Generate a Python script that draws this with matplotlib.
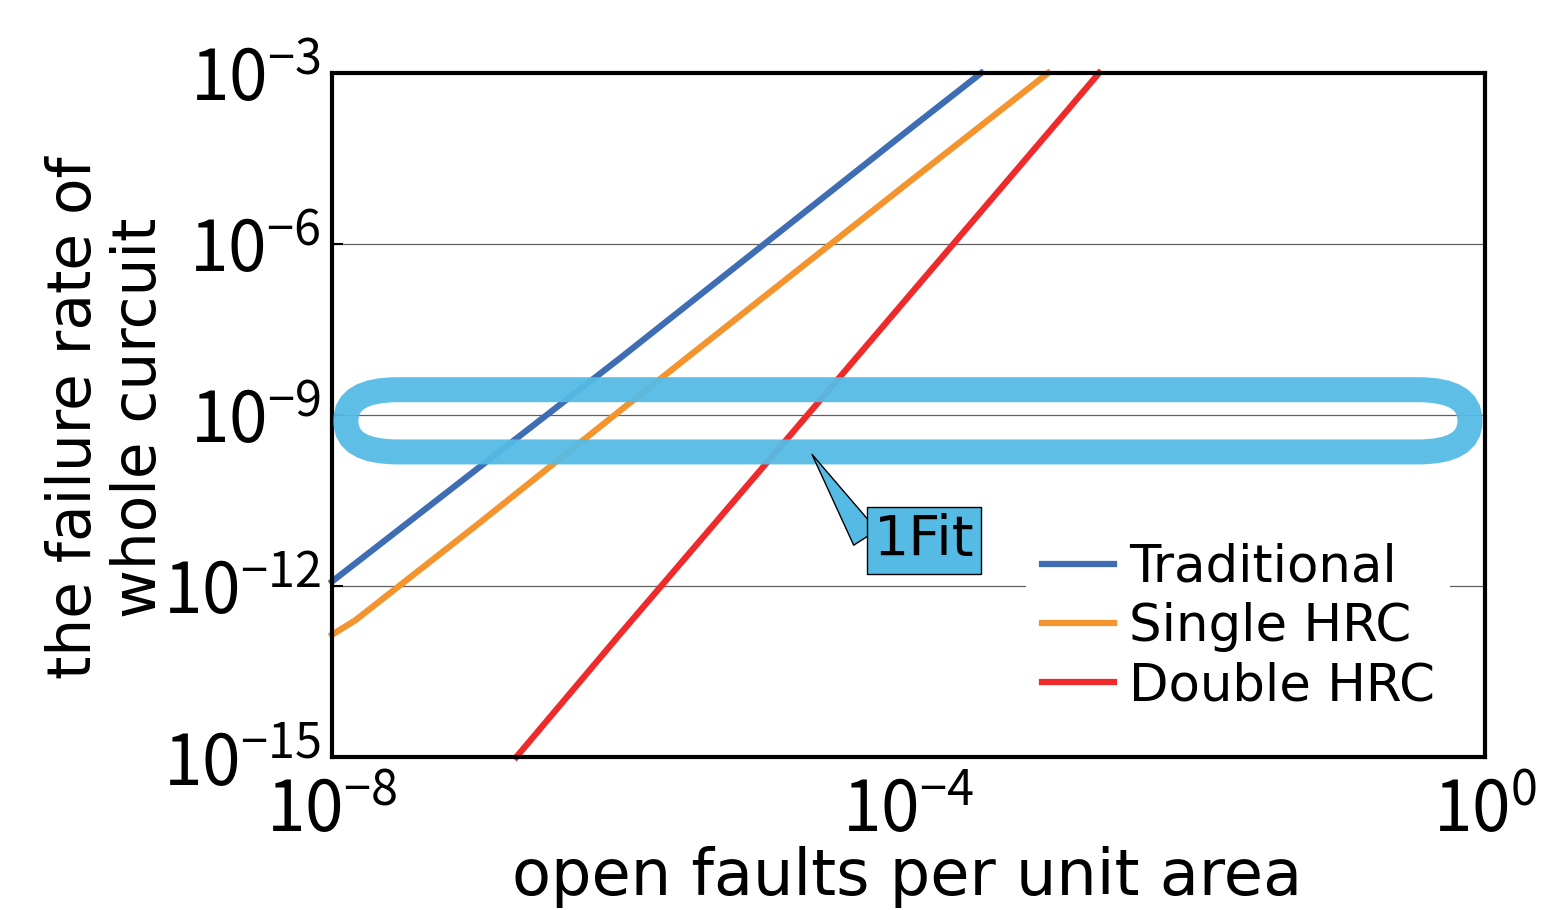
import matplotlib
matplotlib.use("Agg")
import matplotlib.pyplot as plt
from matplotlib.patches import FancyBboxPatch

# Fuentes
plt.rcParams['font.family'] = ['DejaVu Sans']
TICK_FONT = 'Noto Sans CJK JP'

# Datos
trad_x = [1e-8, 1e-7, 1e-6, 1e-5, 1e-4, 3.2e-4]
trad_y = [1.2e-12, 1.1e-10, 1e-8, 1e-6, 1e-4, 1e-3]

single_x = [1e-8, 1.45e-8, 1e-7, 1e-6, 1e-5, 1e-4, 9.3e-4]
single_y = [1.4e-13, 2.5e-13, 1.15e-11, 1.2e-9, 1.2e-7, 1.2e-5, 1e-3]

double_x = [1.9e-7, 1e-6, 1e-5, 1e-4, 1e-3, 2.1e-3]
double_y = [1e-15, 1.45e-13, 1.3e-10, 1.2e-7, 1.1e-4, 1e-3]

labels = ["Traditional", "Single HRC", "Double HRC"]
colors = ["#3F6DB4", "#F4942F", "#EE2A2A"]

x_ticks = [1e-8, 1e-4, 1e0]
y_ticks = [1e-15, 1e-12, 1e-9, 1e-6, 1e-3]
grid_y = [1e-12, 1e-9, 1e-6]

fit_tip = (10 ** -4.68, 10 ** -9.65)
fit_text = (10 ** -3.89, 10 ** -11.2)
cyan = "#55BBE4"

fig = plt.figure(figsize=(15.48, 9.10), dpi=100)
ax = fig.add_axes([0.2145, 0.1681, 0.7448, 0.7517])
ax.set_xscale('log')
ax.set_yscale('log')
ax.set_xlim(1e-8, 1e0)
ax.set_ylim(1e-15, 1e-3)

for gy in grid_y:
    ax.axhline(gy, color='#606060', lw=0.9, zorder=1)

series = [(trad_x, trad_y), (single_x, single_y), (double_x, double_y)]
for (xs, ys), lab, col in zip(series, labels, colors):
    ax.plot(xs, ys, color=col, lw=4.5, label=lab, zorder=2, clip_on=False)

# Recuadro redondeado alrededor de 1 Fit
box = FancyBboxPatch((0.012, 0.446), 0.975, 0.091,
                     boxstyle="round,pad=0,rounding_size=0.045",
                     transform=ax.transAxes, fill=False,
                     edgecolor=cyan, lw=18, alpha=0.95, zorder=3,
                     clip_on=False)
ax.add_patch(box)

ax.annotate("1Fit", xy=fit_tip, xytext=fit_text, fontsize=40,
            ha='center', va='center', zorder=4,
            bbox=dict(boxstyle='square,pad=0.12', fc=cyan, ec='black', lw=1),
            arrowprops=dict(arrowstyle='wedge,tail_width=0.5', fc=cyan,
                            ec='black', lw=1, relpos=(0.0, 0.3)))

ax.set_xticks(x_ticks)
ax.set_yticks(y_ticks)
ax.minorticks_off()
ax.tick_params(axis='y', direction='in', length=8, width=1.5,
               labelsize=50, pad=8, labelfontfamily=TICK_FONT)
ax.tick_params(axis='x', length=0, labelsize=50, pad=14,
               labelfontfamily=TICK_FONT)

for sp in ax.spines.values():
    sp.set_linewidth(3)

leg = ax.legend(loc='center', bbox_to_anchor=(0.786, 0.19), fontsize=37,
                frameon=True, fancybox=False, framealpha=1,
                edgecolor='none', handlelength=1.4, handletextpad=0.3,
                labelspacing=0.18, borderpad=0.3)
leg.set_zorder(5)

fig.text(107 / 1548, 1 - 418 / 910, "the failure rate of\nwhole curcuit",
         rotation=90, ha='center', va='center', fontsize=43,
         linespacing=1.15)
fig.text(907 / 1548, 1 - 877 / 910, "open faults per unit area",
         ha='center', va='center', fontsize=46)

fig.savefig("out.png", dpi=100)
